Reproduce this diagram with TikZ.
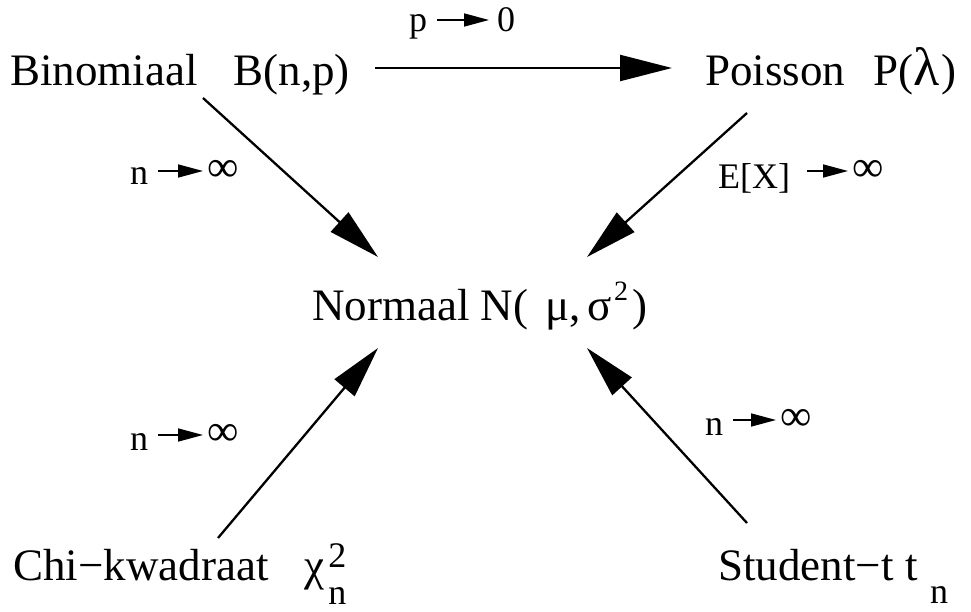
\documentclass[tikz,border=0pt]{standalone}
\usepackage{fontspec}
\setmainfont{Liberation Serif}
\usetikzlibrary{arrows.meta,calc}
\begin{document}
\begin{tikzpicture}[x=1pt,y=-1pt,
  big/.style={font=\fontsize{45}{50}\selectfont, inner sep=0pt, anchor=base west},
  lab/.style={font=\fontsize{36}{40}\selectfont, inner sep=0pt, anchor=base west},
  inf/.style={font=\fontsize{44}{44}\selectfont, inner sep=0pt, anchor=west},
  mainarr/.style={line width=2.3pt, -{Triangle[length=52pt,width=26pt]}},
  smallarr/.style={line width=1.6pt, -{Triangle[length=25pt,width=13pt]}}]
\useasboundingbox (0,0) rectangle (971,612);
% main nodes
\node[big] (bin) at (10,86) {Binomiaal\hspace{36pt}B(n,p)};
\node[big] (poi) at (705,86) {Poisson\hspace{28pt}P(\fontsize{54}{54}\selectfont λ\hspace{2pt}\fontsize{45}{50}\selectfont)};
\node[big] (norm) at (312,320) {Normaal N(\hspace{17pt}μ,\hspace{7pt}σ\hspace{2pt}\raisebox{20pt}{\fontsize{28}{28}\selectfont 2}\hspace{4pt})};
\node[big] (chi) at (13,580) {Chi−kwadraat\hspace{36pt}χ\rlap{\hspace{4pt}\raisebox{13pt}{\fontsize{36}{36}\selectfont 2}}\hspace{4pt}\raisebox{-24pt}{\fontsize{36}{36}\selectfont n}};
\node[big] (stu) at (718,580) {Student−t\hspace{12pt}t\hspace{12pt}\raisebox{-23pt}{\fontsize{36}{36}\selectfont n}};
% main arrows
\draw[mainarr] ([shift={(25,-18)}]bin.base east) -- ([shift={(-33,-18)}]poi.base west);
\draw[mainarr] ([shift={(193,12)}]bin.base west) -- ([shift={(66,-63)}]norm.base west);
\draw[mainarr] ([shift={(42,27)}]poi.base west) -- ([shift={(275,-63)}]norm.base west);
\draw[mainarr] ([shift={(205,-42)}]chi.base west) -- ([shift={(66,28)}]norm.base west);
\draw[mainarr] ([shift={(29,-57)}]stu.base west) -- ([shift={(275,28)}]norm.base west);
% labels
\node[lab] (p0) at (409,32) {p};
\node[lab] (z0) at (497,32) {0};
\draw[smallarr] ($(p0.base east)+(10,-12)$) -- ($(z0.base west)+(-8,-12)$);
\node[lab] (n1) at (130,185) {n};
\node[inf] (i1) at (207,171) {∞};
\draw[smallarr, shorten <=10pt, shorten >=4pt] (n1.east |- i1.west) -- (i1.west);
\node[lab] (e2) at (718,189) {E[X]};
\node[inf] (i2) at (852,171) {∞};
\draw[smallarr, shorten >=4pt] ([xshift=17pt]e2.east |- i2.west) -- (i2.west);
\node[lab] (n3) at (130,450) {n};
\node[inf] (i3) at (207,435) {∞};
\draw[smallarr, shorten <=10pt, shorten >=4pt] (n3.east |- i3.west) -- (i3.west);
\node[lab] (n4) at (705,435) {n};
\node[inf] (i4) at (780,420) {∞};
\draw[smallarr, shorten <=10pt, shorten >=4pt] (n4.east |- i4.west) -- (i4.west);
\end{tikzpicture}
\end{document}
